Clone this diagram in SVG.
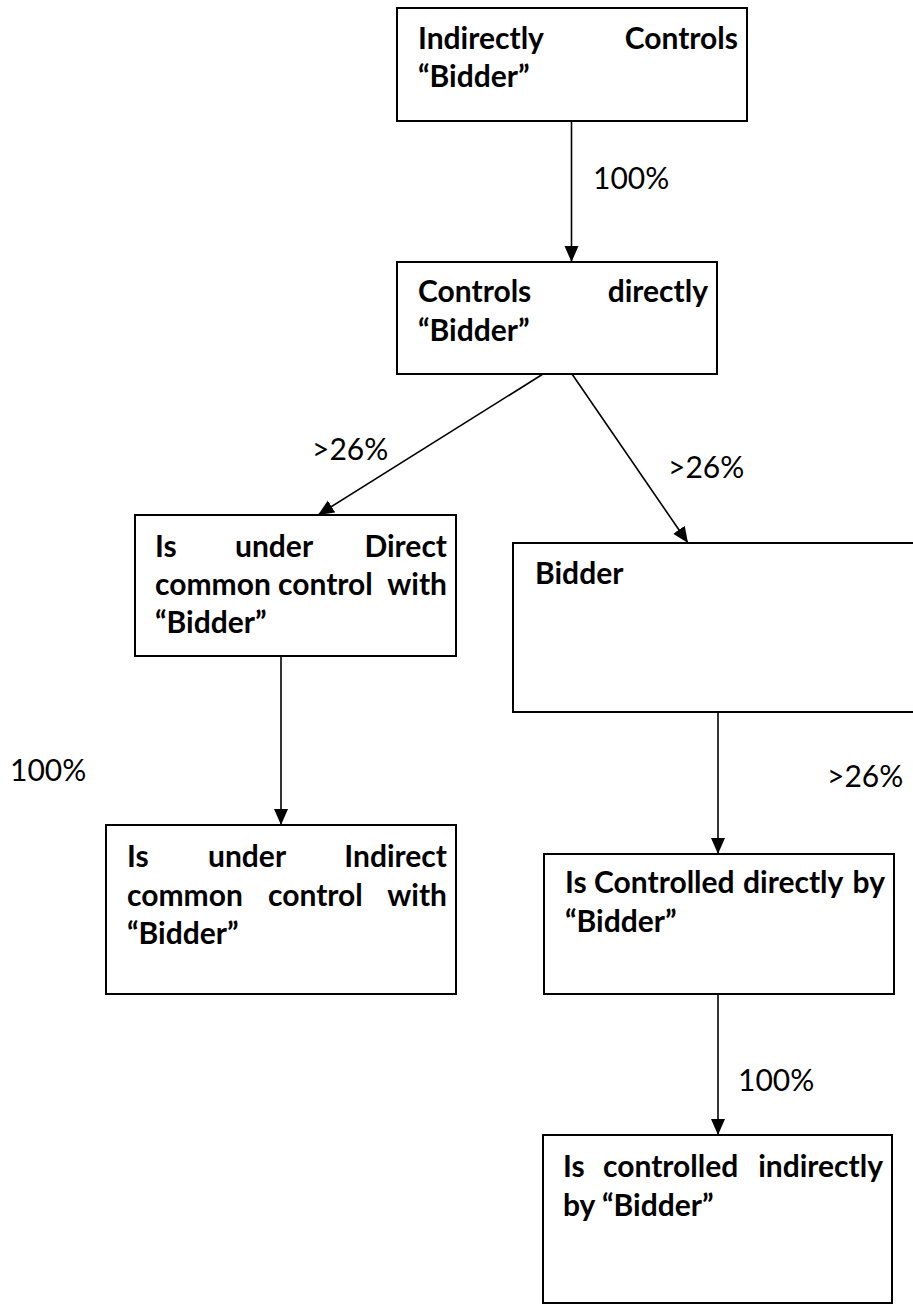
<svg xmlns="http://www.w3.org/2000/svg" width="913" height="1304" viewBox="0 0 913 1304">
<defs>
<marker id="arr" markerUnits="userSpaceOnUse" markerWidth="16" markerHeight="16" viewBox="0 0 16 16" refX="16" refY="8" orient="auto">
<path d="M0,1 L16,8 L0,15 Z" fill="#000"/>
</marker>
<style>
.box{fill:#fff;stroke:#000;stroke-width:2}
.t{font-family:Lato,"Open Sans","Liberation Sans",sans-serif;font-weight:bold;font-size:30px;fill:#000}
.e{text-anchor:end}
.lbl{font-family:Lato,"Open Sans","Liberation Sans",sans-serif;font-size:30px;fill:#000}
.c{fill:none;stroke:#000;stroke-width:1.6;marker-end:url(#arr)}
</style>
</defs>
<rect width="913" height="1304" fill="#fff"/>
<g id="connectors">
<line class="c" x1="571.5" y1="121" x2="571.5" y2="262"/>
<line class="c" x1="543" y1="374" x2="318" y2="515"/>
<line class="c" x1="572" y1="374" x2="688" y2="543"/>
<line class="c" x1="281" y1="656" x2="281" y2="825"/>
<line class="c" x1="718" y1="713" x2="718" y2="854"/>
<line class="c" x1="718" y1="994" x2="718" y2="1135"/>
<text class="lbl" x="593" y="189">100%</text>
<text class="lbl" x="312" y="460">&gt;26%</text>
<text class="lbl" x="668" y="478">&gt;26%</text>
<text class="lbl" x="10" y="781">100%</text>
<text class="lbl" x="827" y="787">&gt;26%</text>
<text class="lbl" x="738" y="1091">100%</text>
</g>
<g id="n1">
<rect class="box" x="397" y="8" width="350" height="113"/>
<text class="t" x="418" y="49">Indirectly</text>
<text class="t e" x="738" y="49">Controls</text>
<text class="t" x="418" y="87">“Bidder”</text>
</g>
<g id="n2">
<rect class="box" x="397" y="262" width="320" height="112"/>
<text class="t" x="418" y="302">Controls</text>
<text class="t e" x="708" y="302">directly</text>
<text class="t" x="418" y="341">“Bidder”</text>
</g>
<g id="n3">
<rect class="box" x="135" y="515" width="321" height="141"/>
<text class="t" x="155" y="557">Is</text>
<text class="t" x="235" y="557">under</text>
<text class="t e" x="447" y="557">Direct</text>
<text class="t" x="155" y="595">common</text>
<text class="t" x="278" y="595">control</text>
<text class="t e" x="447" y="595">with</text>
<text class="t" x="155" y="633">“Bidder”</text>
</g>
<g id="n4">
<rect class="box" x="513" y="543" width="420" height="169"/>
<text class="t" x="535" y="584">Bidder</text>
</g>
<g id="n5">
<rect class="box" x="106" y="825" width="350" height="169"/>
<text class="t" x="127" y="867">Is</text>
<text class="t" x="208" y="867">under</text>
<text class="t e" x="447" y="867">Indirect</text>
<text class="t" x="127" y="906">common</text>
<text class="t" x="268" y="906">control</text>
<text class="t e" x="447" y="906">with</text>
<text class="t" x="127" y="944">“Bidder”</text>
</g>
<g id="n6">
<rect class="box" x="544" y="854" width="350" height="140"/>
<text class="t" x="565" y="893">Is</text>
<text class="t" x="594" y="893">Controlled</text>
<text class="t" x="743" y="893">directly</text>
<text class="t e" x="885" y="893">by</text>
<text class="t" x="565" y="932">“Bidder”</text>
</g>
<g id="n7">
<rect class="box" x="543" y="1135" width="349" height="168"/>
<text class="t" x="563" y="1177">Is</text>
<text class="t" x="603" y="1177">controlled</text>
<text class="t e" x="883" y="1177">indirectly</text>
<text class="t" x="563" y="1216">by “Bidder”</text>
</g>
</svg>
